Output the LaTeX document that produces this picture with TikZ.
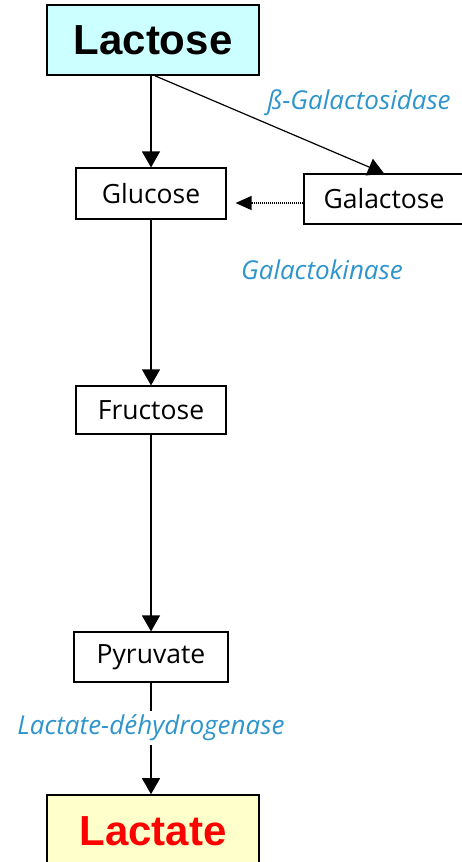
\documentclass[tikz,border=0pt]{standalone}
\usepackage{fontspec}
\setmainfont{Open Sans}
\newfontfamily\arialfont{Liberation Sans}
\usetikzlibrary{arrows.meta}
\definecolor{enzblue}{HTML}{2E95CC}
\definecolor{cyanfill}{HTML}{CCFFFF}
\definecolor{yellowfill}{HTML}{FFFFCC}
\begin{document}
\begin{tikzpicture}[x=1pt,y=-1pt,
  smallbox/.style={draw=black,line width=1.2pt,fill=white,inner sep=0pt,
    font=\fontsize{26.5}{30}\selectfont},
  bigbox/.style={draw=black,line width=1.6pt,inner sep=0pt,
    font=\arialfont\bfseries\fontsize{42}{48}\selectfont},
  enz/.style={text=enzblue,font=\itshape\fontsize{26}{30}\selectfont,inner sep=2pt},
  flow/.style={line width=1.2pt,-{Triangle[width=18pt,length=16pt]}}]
\useasboundingbox (0,0) rectangle (461,862);
\node[bigbox,fill=cyanfill,minimum width=212pt,minimum height=70pt] (lactose) at (153,40) {Lactose};
\node[smallbox,minimum width=150pt,minimum height=51pt] (glucose) at (151,193.5) {Glucose};
\node[smallbox,minimum width=160pt,minimum height=50pt] (galactose) at (384,199) {Galactose};
\node[smallbox,minimum width=150pt,minimum height=48pt] (fructose) at (151,410) {Fructose};
\node[smallbox,minimum width=154pt,minimum height=50pt] (pyruvate) at (151,657) {Pyruvate};
\node[bigbox,fill=yellowfill,text=red,minimum width=212pt,minimum height=72pt] (lactate) at (153,831) {Lactate};
\node[enz] (bgal) at (359,103) {ß-Galactosidase};
\node[enz] (galk) at (322,270) {Galactokinase};
\draw[flow] (lactose.south -| glucose.north) -- (glucose.north);
\draw[flow] ([xshift=2pt]lactose.south) -- (galactose.north);
\draw[line width=1.3pt,dash pattern=on 1pt off 1pt,-{Triangle[width=14pt,length=16pt]},shorten >=9pt]
  ([yshift=-4pt]galactose.west) -- ([yshift=-4pt]galactose.west -| glucose.east);
\draw[flow] (glucose) -- (fructose);
\draw[flow] (fructose) -- (pyruvate);
\draw[flow] (pyruvate.south) -- (pyruvate.south |- lactate.north);
\node[enz,fill=white,inner ysep=4pt] (ldh) at (151,728) {Lactate-déhydrogenase};
\end{tikzpicture}
\end{document}
